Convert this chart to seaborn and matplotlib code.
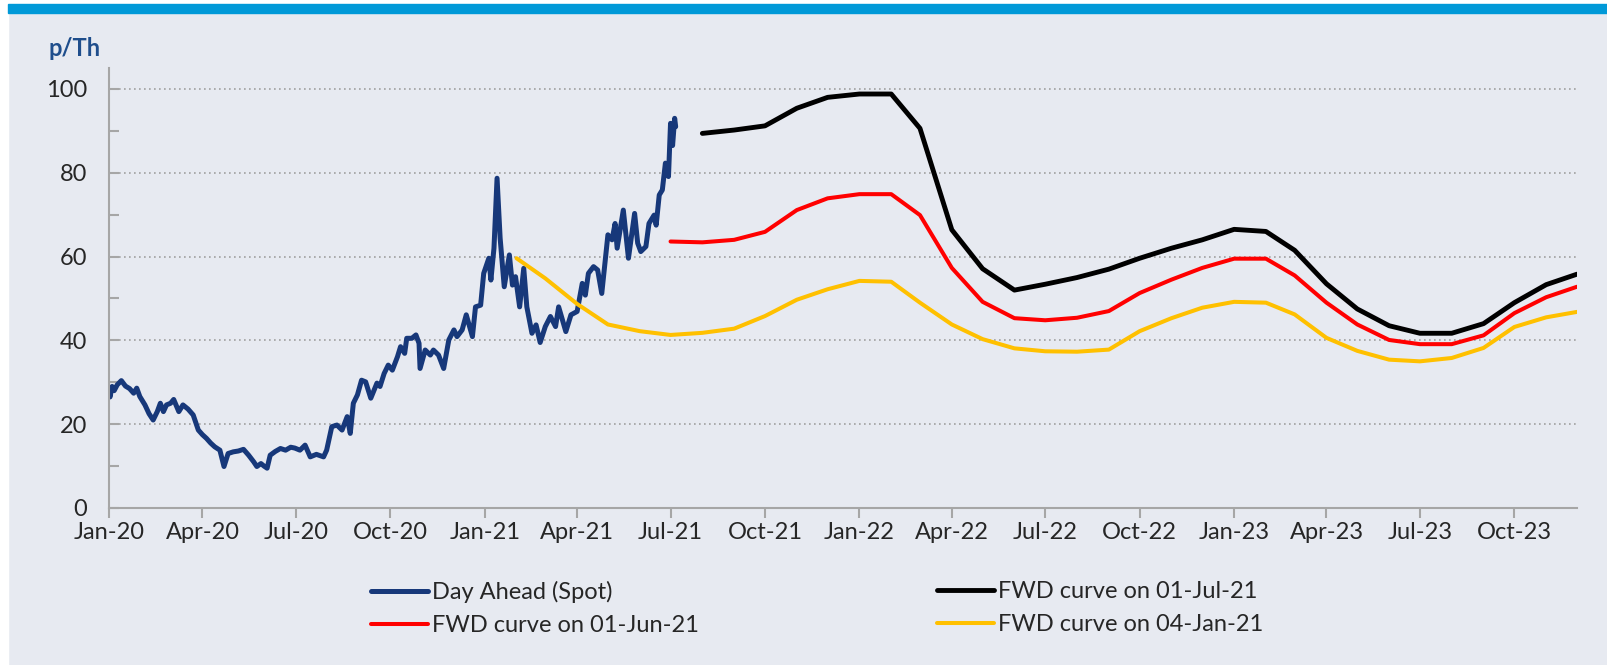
import numpy as np
import pandas as pd
import seaborn as sns
import matplotlib.pyplot as plt
import matplotlib.dates as mdates
from matplotlib.patches import Rectangle
from matplotlib.ticker import MultipleLocator

# day ahead spot price, days counted from 01-Jan-20 (p/Th)
spot_day = [0, 1, 3, 5, 8, 12, 16, 20, 24, 27, 30, 35, 39, 43, 47, 50, 53, 56, 60, 63,
            68, 72, 77, 82, 87, 91, 95, 99, 103, 108, 112, 116, 121, 126, 131, 136, 141, 144,
            148, 151, 154, 157, 162, 167, 172, 177, 181, 186, 191, 196, 202, 209, 212, 217,
            222, 227, 232, 235, 238, 242, 246, 250, 255, 261, 264, 268, 272, 276, 281, 284,
            288, 290, 295, 299, 302, 303, 308, 313, 316, 321, 326, 331, 336, 339, 344, 348,
            354, 357, 362, 365, 370, 372, 375, 378, 381, 385, 390, 393, 396, 400, 404, 407,
            412, 416, 420, 425, 430, 435, 438, 445, 450, 456, 461, 464, 467, 472, 476, 480,
            486, 490, 493, 495, 501, 506, 512, 515, 518, 523, 526, 531, 533, 536, 539, 542,
            545, 547, 549, 551, 552]
spot_value = [27.5, 26.5, 29.0, 28.0, 29.4, 30.4, 29.1, 28.5, 27.4, 28.6, 26.6, 24.6, 22.5, 21.0, 23.0, 25.0,
              23.0, 24.6, 25.0, 25.9, 23.0, 24.6, 23.6, 22.2, 18.6, 17.5, 16.6, 15.5, 14.6, 13.8, 9.9,
              13.0, 13.4, 13.6, 14.0, 12.6, 11.0, 9.9, 10.6, 10.0, 9.5, 12.6, 13.5, 14.2, 13.8, 14.5,
              14.3, 13.8, 15.0, 12.2, 12.8, 12.2, 13.8, 19.4, 19.8, 18.6, 21.8, 17.8, 25.0, 27.0,
              30.5, 30.1, 26.2, 29.8, 29.0, 32.1, 34.1, 32.9, 36.1, 38.5, 36.9, 40.5, 40.5, 41.3,
              39.3, 33.3, 37.7, 36.5, 37.7, 36.5, 33.3, 40.1, 42.5, 40.9, 42.5, 46.1, 40.9, 48.0,
              48.4, 56.0, 59.6, 54.4, 62.0, 78.7, 64.4, 52.8, 60.4, 53.2, 55.2, 48.0, 57.2, 48.0,
              41.7, 43.7, 39.5, 43.3, 45.7, 43.3, 48.0, 42.1, 46.1, 46.9, 53.6, 50.8, 56.0, 57.6,
              56.8, 51.2, 65.2, 64.0, 67.9, 62.0, 71.1, 59.6, 70.3, 63.2, 61.2, 62.4, 67.9, 69.9,
              67.5, 74.7, 75.9, 82.3, 79.1, 91.8, 86.5, 93.0, 91.0]

# forward curves, monthly points
black_start = "2021-08-01"
black_value = [89.4, 90.2, 91.2, 95.4, 98.0, 98.8, 98.8, 90.6, 66.4, 57.1, 52.0, 53.4,
               55.0, 57.0, 59.6, 62.0, 64.0, 66.5, 66.0, 61.5, 53.5, 47.5, 43.5, 41.7,
               41.7, 44.0, 49.0, 53.3, 55.8]
red_start = "2021-07-01"
red_value = [63.6, 63.4, 64.0, 65.9, 71.1, 73.9, 74.9, 74.9, 69.9, 57.3, 49.2, 45.3,
             44.8, 45.4, 47.0, 51.3, 54.5, 57.3, 59.5, 59.5, 55.5, 49.0, 43.8, 40.1,
             39.1, 39.1, 41.2, 46.5, 50.3, 52.8]
yellow_start = "2021-02-01"
yellow_value = [59.6, 54.8, 48.7, 43.8, 42.2, 41.3, 41.8, 42.8, 45.8, 49.7, 52.2, 54.2,
                54.0, 49.0, 43.8, 40.3, 38.1, 37.4, 37.3, 37.8, 42.2, 45.3, 47.8, 49.2,
                49.0, 46.2, 40.6, 37.5, 35.4, 35.0, 35.8, 38.2, 43.2, 45.5, 46.8]

labels = ["Day Ahead (Spot)", "FWD curve on 01-Jul-21",
          "FWD curve on 01-Jun-21", "FWD curve on 04-Jan-21"]

sns.set_theme(style="white")
plt.rcParams['font.family'] = ['Lato', 'DejaVu Sans']

bg = "#E7EAF1"
fig = plt.figure(figsize=(16.08, 6.65), dpi=100, facecolor=bg)
fig.add_artist(Rectangle((0, 1 - 4 / 665), 1, 4 / 665, transform=fig.transFigure,
                         color="white", zorder=0))
fig.add_artist(Rectangle((0, 0), 8 / 1608, 1, transform=fig.transFigure,
                         color="white", zorder=0))
fig.add_artist(Rectangle((8 / 1608, 1 - 13 / 665), 1, 9 / 665, transform=fig.transFigure,
                         color="#0099D8", zorder=1))

ax = fig.add_axes([0.0678, 0.2361, 0.9129, 0.6616])
ax.set_facecolor(bg)

spot = pd.DataFrame({"date": pd.Timestamp("2020-01-01") + pd.to_timedelta(spot_day, unit="D"),
                     "value": spot_value})
black = pd.DataFrame({"date": pd.date_range(black_start, periods=len(black_value), freq="MS"),
                      "value": black_value})
red = pd.DataFrame({"date": pd.date_range(red_start, periods=len(red_value), freq="MS"),
                    "value": red_value})
yellow = pd.DataFrame({"date": pd.date_range(yellow_start, periods=len(yellow_value), freq="MS"),
                       "value": yellow_value})

sns.lineplot(data=spot, x="date", y="value", ax=ax, color="#17387A", lw=3.6)
sns.lineplot(data=black, x="date", y="value", ax=ax, color="black", lw=3.5)
sns.lineplot(data=red, x="date", y="value", ax=ax, color="#FF0000", lw=2.9)
sns.lineplot(data=yellow, x="date", y="value", ax=ax, color="#FFC000", lw=2.9)

ax.set_xlim(pd.Timestamp("2020-01-01"), pd.Timestamp("2023-12-01"))
ax.set_ylim(0, 105)
ax.set_xlabel("")
ax.set_ylabel("")

ax.xaxis.set_major_locator(mdates.MonthLocator(bymonth=[1, 4, 7, 10]))
ax.xaxis.set_major_formatter(mdates.DateFormatter("%b-%y"))
ax.yaxis.set_major_locator(MultipleLocator(20))
ax.yaxis.set_minor_locator(MultipleLocator(10))
ax.tick_params(axis="x", direction="out", length=7, width=1.5, color="#A6A6A6",
               labelsize=17, pad=3, bottom=True)
ax.tick_params(axis="y", which="both", direction="in", length=7, width=1.5, color="#A6A6A6",
               labelsize=17, pad=16, left=True)
ax.yaxis.grid(True, linestyle=(0, (1, 2)), color="#A0A0A0", lw=1.2)

for side in ["top", "right"]:
    ax.spines[side].set_visible(False)
for side in ["left", "bottom"]:
    ax.spines[side].set_color("#A6A6A6")
    ax.spines[side].set_linewidth(1.5)

fig.text(49 / 1608, 1 - 49 / 665, "p/Th", fontsize=17, fontweight="bold",
         color="#1F4E8C", va="center")

lines = ax.get_lines()
spot_line, black_line, red_line, yellow_line = lines[0], lines[1], lines[2], lines[3]
leg_kw = dict(loc="upper left", frameon=False, fontsize=17, handlelength=2.4,
              handletextpad=0.2, labelspacing=0.5, borderpad=0, borderaxespad=0)
fig.legend([spot_line, red_line], [labels[0], labels[2]],
           bbox_to_anchor=(371 / 1608, 1 - 581 / 665), **leg_kw)
fig.legend([black_line, yellow_line], [labels[1], labels[3]],
           bbox_to_anchor=(937 / 1608, 1 - 581 / 665), **leg_kw)

fig.savefig("out.png", dpi=100, facecolor=bg)
